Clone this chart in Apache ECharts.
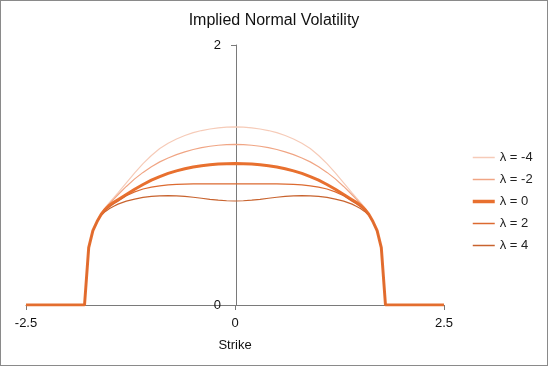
<!DOCTYPE html>
<html>
<head>
<meta charset="utf-8">
<script src="https://cdn.jsdelivr.net/npm/echarts@6/dist/echarts.min.js"></script>
<style>
    html, body { margin: 0; padding: 0; background: #fff; }
    #chart { width: 548px; height: 366px; box-sizing: border-box; border: 1px solid #8a8a8a; }
</style>
</head>
<body>
<div id="chart"></div>
<script>
// strike grid (nonuniform, finer near the edges of the support)
var strikes = [-2.5, -1.8, -1.75, -1.7, -1.65, -1.6, -1.55, -1.5, -1.45, -1.4, -1.3, -1.2, -1.1, -1.0, -0.9, -0.8, -0.7, -0.6, -0.5, -0.4, -0.3, -0.2, -0.1,
    0,
    0.1, 0.2, 0.3, 0.4, 0.5, 0.6, 0.7, 0.8, 0.9, 1.0, 1.1, 1.2, 1.3, 1.4, 1.45, 1.5, 1.55, 1.6, 1.65, 1.7, 1.75, 1.8, 2.5];

var volLamM4 = [0, 0, 0.445, 0.575, 0.645, 0.705, 0.750, 0.790, 0.825, 0.862, 0.940, 1.016, 1.088, 1.150, 1.204, 1.244, 1.277, 1.304, 1.326, 1.342, 1.354, 1.363, 1.368,
    1.370,
    1.368, 1.363, 1.354, 1.342, 1.326, 1.304, 1.277, 1.244, 1.204, 1.150, 1.088, 1.016, 0.940, 0.862, 0.825, 0.790, 0.750, 0.705, 0.645, 0.575, 0.445, 0, 0];
var volLamM2 = [0, 0, 0.443, 0.573, 0.643, 0.702, 0.745, 0.781, 0.814, 0.848, 0.912, 0.970, 1.020, 1.064, 1.101, 1.131, 1.157, 1.178, 1.196, 1.210, 1.221, 1.229, 1.234,
    1.235,
    1.234, 1.229, 1.221, 1.210, 1.196, 1.178, 1.157, 1.131, 1.101, 1.064, 1.020, 0.970, 0.912, 0.848, 0.814, 0.781, 0.745, 0.702, 0.643, 0.573, 0.443, 0, 0];
var volLam0 = [0, 0, 0.442, 0.572, 0.642, 0.698, 0.738, 0.768, 0.790, 0.810, 0.850, 0.890, 0.927, 0.960, 0.988, 1.012, 1.032, 1.048, 1.061, 1.071, 1.079, 1.084, 1.087,
    1.088,
    1.087, 1.084, 1.079, 1.071, 1.061, 1.048, 1.032, 1.012, 0.988, 0.960, 0.927, 0.890, 0.850, 0.810, 0.790, 0.768, 0.738, 0.698, 0.642, 0.572, 0.442, 0, 0];
var volLam2 = [0, 0, 0.440, 0.570, 0.640, 0.694, 0.730, 0.756, 0.778, 0.798, 0.840, 0.870, 0.892, 0.907, 0.917, 0.924, 0.928, 0.930, 0.931, 0.932, 0.932, 0.932, 0.932,
    0.932,
    0.932, 0.932, 0.932, 0.932, 0.931, 0.930, 0.928, 0.924, 0.917, 0.907, 0.892, 0.870, 0.840, 0.798, 0.778, 0.756, 0.730, 0.694, 0.640, 0.570, 0.440, 0, 0];
var volLam4 = [0, 0, 0.438, 0.568, 0.638, 0.690, 0.720, 0.742, 0.760, 0.776, 0.799, 0.815, 0.828, 0.836, 0.840, 0.841, 0.839, 0.835, 0.829, 0.821, 0.813, 0.806, 0.802,
    0.800,
    0.802, 0.806, 0.813, 0.821, 0.829, 0.835, 0.839, 0.841, 0.840, 0.836, 0.828, 0.815, 0.799, 0.776, 0.760, 0.742, 0.720, 0.690, 0.638, 0.568, 0.438, 0, 0];

var seriesNames = ["λ = -4", "λ = -2", "λ = 0", "λ = 2", "λ = 4"];
var xTicks = [-2.5, 0, 2.5];
var yTicks = [0, 2];

var allVols = [volLamM4, volLamM2, volLam0, volLam2, volLam4];
var colors = ["#F6CBB8", "#F0A584", "#E8702F", "#DC6A30", "#C8632E"];
var widths = [1.2, 1.2, 3, 1.2, 1.2];
var order = [0, 1, 3, 4, 2]; // thick line drawn last

var font = "Liberation Sans, Arial, Helvetica, sans-serif";
var gridLeft = 25, gridRight = 103;
var chart = echarts.init(document.getElementById("chart"), null, { renderer: "canvas" });

var series = [];
var legendData = [];
for (var i = 0; i < allVols.length; i++) {
    var pts = [];
    for (var k = 0; k < strikes.length; k++) {
        pts.push([strikes[k], allVols[i][k]]);
    }
    series.push({
        name: seriesNames[i],
        type: "line",
        data: pts,
        symbol: "none",
        smooth: false,
        animation: false,
        z: order[i] + 2,
        lineStyle: { color: colors[i], width: widths[i] },
        itemStyle: { color: colors[i] }
    });
    legendData.push({
        name: seriesNames[i],
        itemStyle: { opacity: 0 },
        lineStyle: { color: colors[i], width: widths[i] === 3 ? 3.5 : 1.5 }
    });
}

// y axis sits at strike 0, i.e. in the middle of the plot width
var plotW = 548 - gridLeft - gridRight;
var yOffset = -plotW / 2;

chart.setOption({
    backgroundColor: "#fff",
    title: {
        text: "Implied Normal Volatility",
        left: "center",
        top: 7,
        textStyle: { fontFamily: font, fontSize: 16, fontWeight: "normal", color: "#111" }
    },
    legend: {
        data: legendData,
        orient: "vertical",
        left: 465,
        top: 145,
        itemWidth: 22,
        itemHeight: 14,
        itemGap: 9,
        itemStyle: { opacity: 0 },
        textStyle: { fontFamily: font, fontSize: 13, color: "#222" }
    },
    grid: { left: gridLeft, right: gridRight, top: 44, bottom: 60 },
    xAxis: {
        type: "value",
        min: -2.5,
        max: 2.5,
        interval: 2.5,
        name: "Strike",
        nameLocation: "middle",
        nameGap: 34,
        nameTextStyle: { fontFamily: font, fontSize: 13, color: "#111" },
        axisLine: { lineStyle: { color: "#7a7a7a", width: 1 } },
        axisTick: { show: true, length: 5, lineStyle: { color: "#7a7a7a" } },
        axisLabel: {
            margin: 12,
            fontFamily: font,
            fontSize: 13,
            color: "#111",
            formatter: function (v) { return xTicks.indexOf(v) >= 0 ? String(v) : ""; }
        },
        splitLine: { show: false }
    },
    yAxis: {
        type: "value",
        min: 0,
        max: 2,
        interval: 2,
        offset: yOffset,
        axisLine: { show: true, onZero: false, lineStyle: { color: "#7a7a7a", width: 1 } },
        axisTick: { show: true, length: 5, lineStyle: { color: "#7a7a7a" } },
        axisLabel: {
            margin: 15,
            fontFamily: font,
            fontSize: 13,
            color: "#111",
            formatter: function (v) { return yTicks.indexOf(v) >= 0 ? String(v) : ""; }
        },
        splitLine: { show: false }
    },
    series: series
});
</script>
</body>
</html>
